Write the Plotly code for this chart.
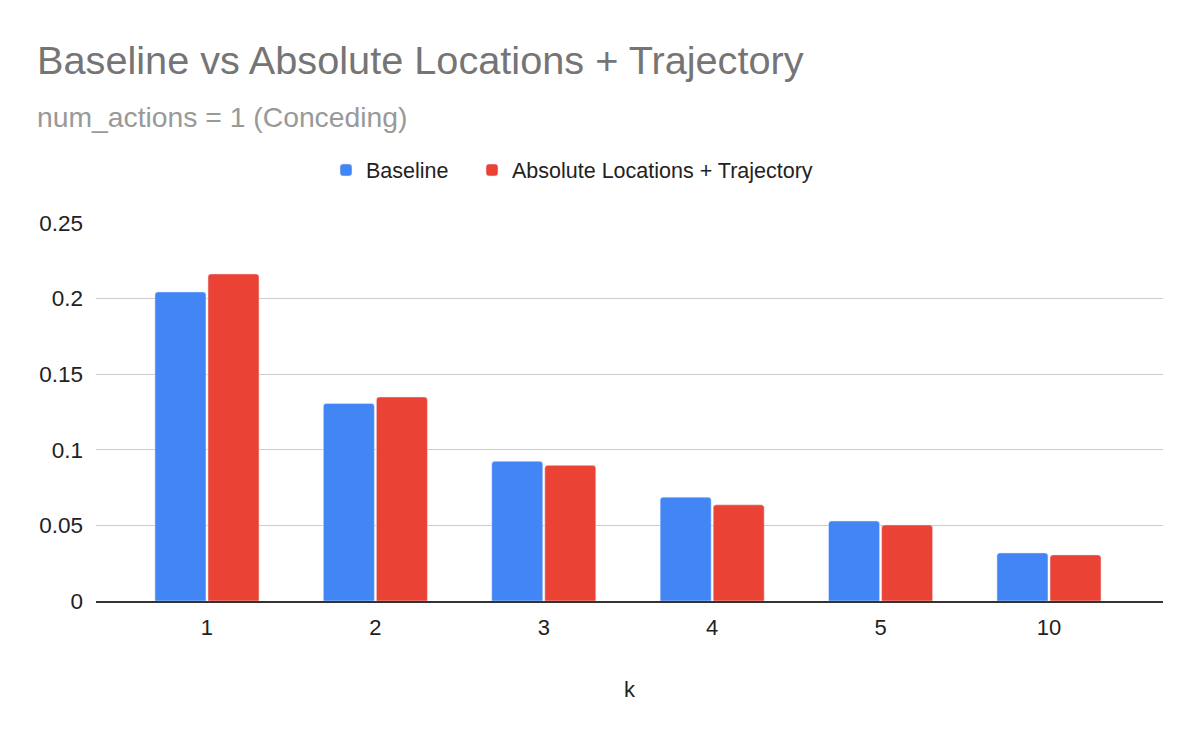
import plotly.graph_objects as go

categories = ["1", "2", "3", "4", "5", "10"]
baseline = [0.2044, 0.1307, 0.0924, 0.0687, 0.0529, 0.0318]
abs_traj = [0.2163, 0.1349, 0.0897, 0.0636, 0.0503, 0.0305]
y_ticks = [0, 0.05, 0.1, 0.15, 0.2, 0.25]
y_tick_labels = ["0", "0.05", "0.1", "0.15", "0.2", "0.25"]

# page has an 8px body margin: figure sized so that it fills the rest of the window
OFF = 8
W, H = 1200 - OFF, 742 - OFF
L, R, T, B = 96 - OFF, 1200 - 1163, 223 - OFF, 742 - 601
ph = H - T - B
pw = W - L - R

def px_x(x):
    return (x - OFF - L) / pw

def px_y(y):
    return (H - B - (y - OFF)) / ph

FONT = "Liberation Sans, Arial, sans-serif"
LEG_FONT = dict(family=FONT, size=21.5, color="#222222")

fig = go.Figure()
fig.add_trace(go.Bar(x=categories, y=baseline, name="Baseline", marker_color="#4285F4",
                     legend="legend", showlegend=True))
fig.add_trace(go.Bar(x=categories, y=abs_traj, name="Absolute Locations + Trajectory",
                     marker_color="#EA4335", legend="legend2", showlegend=True))

fig.update_layout(
    width=W, height=H,
    showlegend=True,
    margin=dict(l=L, r=R, t=T, b=B, autoexpand=False),
    paper_bgcolor="white", plot_bgcolor="white",
    font=dict(family=FONT, size=22, color="#222222"),
    barmode="group", bargap=0.37, bargroupgap=0.038, barcornerradius=3,
    title=dict(text="Baseline vs Absolute Locations + Trajectory",
               font=dict(family=FONT, size=39.7, color="#757575"),
               xref="container", x=(37 - OFF) / W, xanchor="left",
               yref="container", y=1 - (60 - OFF) / H, yanchor="middle"),
    legend=dict(orientation="h", x=px_x(326), xanchor="left", visible=True,
                y=px_y(170), yanchor="middle", font=LEG_FONT, itemwidth=30),
    legend2=dict(orientation="h", x=px_x(472), xanchor="left", visible=True,
                 y=px_y(170), yanchor="middle", font=LEG_FONT, itemwidth=30),
    xaxis=dict(type="category", range=[-0.659, 5.677], showgrid=False, showline=True,
               linecolor="#333333", linewidth=2, ticks="", ticklabelstandoff=6,
               tickfont=dict(size=22, color="#222222"),
               title=dict(text="k", font=dict(size=22, color="#222222"), standoff=42)),
    yaxis=dict(range=[0, 0.25], tickvals=y_ticks, ticktext=y_tick_labels,
               showgrid=True, gridcolor="#cccccc", gridwidth=1.3, zeroline=False,
               ticks="", ticklabelstandoff=12,
               tickfont=dict(size=22.5, color="#222222")),
    annotations=[dict(text="num_actions = 1 (Conceding)", xref="paper", yref="paper",
                      x=px_x(35), y=px_y(117), xanchor="left", yanchor="middle",
                      showarrow=False, font=dict(family=FONT, size=28.3, color="#999999"))],
)

fig.write_html("out.html")
